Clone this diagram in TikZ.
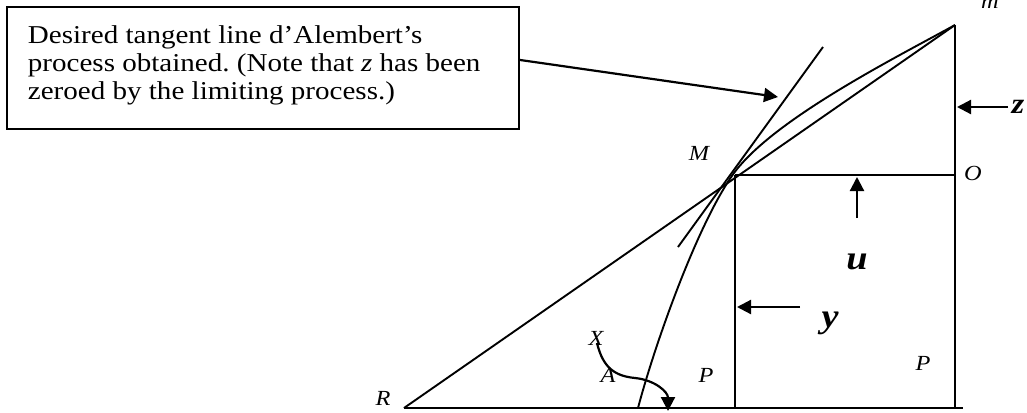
\documentclass[tikz,border=0pt]{standalone}
\usepackage{fontspec}
\setmainfont{Liberation Serif}
\usetikzlibrary{arrows.meta}
\newcommand\hs[1]{\scalebox{1.13}[1]{#1}}
\begin{document}
\frenchspacing
\begin{tikzpicture}[x=1bp,y=-1bp, line width=1.9bp,
  lbl/.style={inner sep=0pt, anchor=base, font=\fontsize{21.6}{25}\selectfont\itshape},
  big/.style={inner sep=0pt, anchor=base, font=\fontsize{34}{38}\selectfont\bfseries\itshape},
  mid/.style={inner sep=0pt, anchor=base, font=\fontsize{29}{33}\selectfont\bfseries\itshape},
  arr/.style={-{Triangle[length=14bp,width=14bp]}, line width=2.2bp},
  callout/.style={draw, line width=1.9bp, inner sep=0pt, minimum width=512bp, minimum height=122bp, anchor=north west},
  ]
\useasboundingbox (0,0) rectangle (1027,412);
% key points
\coordinate (M) at (735,175);
\coordinate (m) at (955,25);
\coordinate (O) at (955,175);
\coordinate (Pb) at (735,408);
\coordinate (Qb) at (955,408);
\coordinate (R) at (404,408);
\coordinate (E) at (963,408);
\coordinate (C0) at (638,408);
\coordinate (C1) at (734,173);
\coordinate (T1) at (678,247);
\coordinate (T2) at (823,47);
\coordinate (tipA) at (778,97);
% callout box
\node[callout] (box) at (6,6) {};
\node[anchor=base west, inner sep=0pt, font=\fontsize{25.8}{28.5}\selectfont] (boxtext) at (27,43)
  {\hs{\begin{tabular}[t]{@{}l@{}}Desired tangent line d’Alembert’s\\process obtained. (Note that \textit{z} has been\\zeroed by the limiting process.)\end{tabular}}};
\draw[arr] ([yshift=8bp]box.east) -- (tipA);
% frame
\draw (M) -- (O);
\draw (m) -- (Qb);
\draw (M) -- (Pb);
\draw (R) -- (E);
% secant R--m
\draw (R) -- (m);
% tangent
\draw (T1) -- (T2);
% curve
\draw (C0) .. controls (656,340) and (699,221) .. (C1) .. controls (774,119) and (895,58) .. (m);
% arrows
\coordinate (zt) at (1008,107);
\coordinate (zh) at (957,107);
\draw[arr] (zt) -- (zh);
\coordinate (ut) at (857,218);
\coordinate (uh) at (857,177);
\draw[arr] (ut) -- (uh);
\coordinate (yt) at (800,307);
\coordinate (yh) at (737,307);
\draw[arr] (yt) -- (yh);
\coordinate (xs) at (597,343);
\coordinate (xe) at (668,411);
\draw[arr] (xs) .. controls (603,368) and (615,376) .. (635,378) .. controls (655,380) and (668,392) .. (xe);
% labels
\node[lbl] (lm) at (990,8) {\hs{m}};
\node[lbl] (lM) at (699,160) {\hs{M}};
\node[lbl] (lO) at (973,180) {\hs{O}};
\node[mid] (lz) at (1018,113) {\hs{z}};
\node[big] (lu) at (857,269) {\hs{u}};
\node[big] (ly) at (830,327) {\hs{y}};
\node[lbl] (lP1) at (923,370) {\hs{P}};
\node[lbl] (lP2) at (706,382) {\hs{P}};
\node[lbl] (lA) at (608,382) {\hs{A}};
\node[lbl] (lX) at (596,345) {\hs{X}};
\node[lbl] (lR) at (383,405) {\hs{R}};
\end{tikzpicture}
\end{document}
